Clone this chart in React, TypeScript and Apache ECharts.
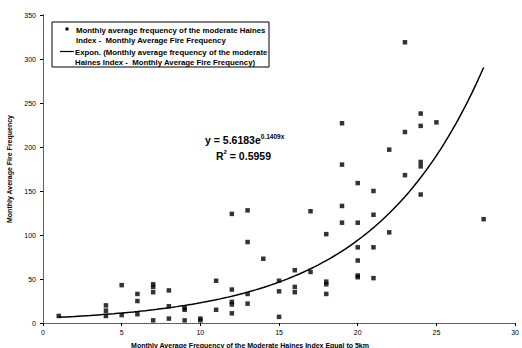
import React, { useEffect, useRef } from "react";
import * as echarts from "echarts";

// Observed scatter points (x: monthly avg frequency of moderate Haines index; y: monthly avg fire frequency)
const xValues = [
  1,
  4, 4, 4,
  5, 5,
  6, 6, 6,
  7, 7, 7, 7,
  8, 8, 8,
  9, 9, 9,
  10, 10,
  11, 11,
  12, 12, 12, 12, 12,
  13, 13, 13, 13,
  14,
  15, 15, 15,
  16, 16, 16,
  17, 17,
  18, 18, 18, 18,
  19, 19, 19, 19,
  20, 20, 20, 20, 20, 20,
  21, 21, 21, 21,
  22, 22,
  23, 23, 23,
  24, 24, 24, 24, 24,
  25,
  28,
];
const yValues = [
  8,
  20, 14, 8,
  43, 9,
  33, 25, 10,
  44, 41, 35, 3,
  37, 19, 5,
  17, 15, 3,
  5, 3,
  48, 15,
  124, 38, 24, 21, 11,
  128, 92, 33, 22,
  73,
  48, 36, 7,
  60, 41, 35,
  127, 58,
  101, 47, 44, 33,
  227, 180, 133, 114,
  159, 114, 86, 71, 54, 52,
  150, 123, 86, 51,
  197, 103,
  319, 217, 168,
  238, 224, 183, 178, 146,
  228,
  118,
];

// Exponential trendline as stated on the chart: y = 5.6183 e^(0.1409x)
const trendA = 5.6183;
const trendB = 0.1409;
const trendXStart = 1;
const trendXEnd = 28;

const xTicks = [0, 5, 10, 15, 20, 25, 30];
const yTicks = [0, 50, 100, 150, 200, 250, 300, 350];

const scatterName = "Monthly average frequency of the moderate Haines Index -  Monthly Average Fire Frequency";
const trendName = "Expon. (Monthly average frequency of the moderate Haines Index -  Monthly Average Fire Frequency)";

const FONT = 'Arial, "Liberation Sans", sans-serif';

export default function App() {
  const ref = useRef<HTMLDivElement>(null);

  useEffect(() => {
    document.body.style.margin = "0";
    if (!ref.current) return;
    const chart = echarts.init(ref.current, null, { renderer: "svg" });

    const scatterData = xValues.map((x, i) => [x, yValues[i]]);
    const trendData: number[][] = [];
    for (let x = trendXStart; x <= trendXEnd + 1e-9; x += 0.25) {
      trendData.push([x, trendA * Math.exp(trendB * x)]);
    }

    const xMin = xTicks[0];
    const xMax = xTicks[xTicks.length - 1];
    const yMin = yTicks[0];
    const yMax = yTicks[yTicks.length - 1];

    chart.setOption({
      animation: false,
      backgroundColor: "#ffffff",
      grid: { left: 43, right: 6, top: 15, bottom: 25, show: false },
      xAxis: [
        {
          type: "value",
          min: xMin,
          max: xMax,
          interval: 5,
          axisLine: { show: true, onZero: false, lineStyle: { color: "#000", width: 1 } },
          axisTick: { show: true, inside: false, length: 3, lineStyle: { color: "#000" } },
          axisLabel: { color: "#000", fontSize: 7, fontFamily: FONT, margin: 6 },
          splitLine: { show: false },
        },
        {
          type: "value",
          position: "top",
          min: xMin,
          max: xMax,
          interval: 5,
          axisLine: { show: true, lineStyle: { color: "#777", width: 1, type: "dotted" } },
          axisTick: { show: false },
          axisLabel: { show: false },
          splitLine: { show: false },
        },
      ],
      yAxis: [
        {
          type: "value",
          min: yMin,
          max: yMax,
          interval: 50,
          axisLine: { show: true, onZero: false, lineStyle: { color: "#000", width: 1 } },
          axisTick: { show: true, inside: false, length: 3, lineStyle: { color: "#000" } },
          axisLabel: { color: "#000", fontSize: 7, fontFamily: FONT, margin: 7 },
          splitLine: { show: false },
        },
        {
          type: "value",
          position: "right",
          min: yMin,
          max: yMax,
          interval: 50,
          axisLine: { show: true, lineStyle: { color: "#777", width: 1, type: "dotted" } },
          axisTick: { show: false },
          axisLabel: { show: false },
          splitLine: { show: false },
        },
      ],
      series: [
        {
          name: scatterName,
          type: "scatter",
          xAxisIndex: 0,
          yAxisIndex: 0,
          symbol: "rect",
          symbolSize: 4.5,
          itemStyle: { color: "#000" },
          data: scatterData,
          z: 3,
        },
        {
          name: trendName,
          type: "line",
          xAxisIndex: 0,
          yAxisIndex: 0,
          showSymbol: false,
          symbol: "none",
          smooth: false,
          lineStyle: { color: "#000", width: 1.5 },
          data: trendData,
          z: 2,
        },
      ],
      graphic: [
        // y-axis title
        {
          type: "text",
          x: 9,
          y: 169,
          rotation: Math.PI / 2,
          style: {
            text: "Monthly Average Fire Frequency",
            fontSize: 7,
            fontWeight: "bold",
            fontFamily: FONT,
            fill: "#000",
            align: "center",
            verticalAlign: "middle",
          },
        },
        // x-axis title
        {
          type: "text",
          x: 250,
          y: 345,
          style: {
            text: "Monthly Average Frequency of the Moderate Haines Index Equal to 5km",
            fontSize: 7,
            fontWeight: "bold",
            fontFamily: FONT,
            fill: "#000",
            align: "center",
            verticalAlign: "middle",
          },
        },
        // legend box
        {
          type: "rect",
          shape: { x: 52, y: 22, width: 217, height: 45 },
          style: { fill: "#fff", stroke: "#000", lineWidth: 1 },
          z: 10,
        },
        {
          type: "rect",
          shape: { x: 65.5, y: 27.5, width: 3, height: 3 },
          style: { fill: "#000" },
          z: 11,
        },
        {
          type: "text",
          left: 76,
          top: 25,
          style: {
            text: "Monthly average frequency of the moderate Haines\nIndex -  Monthly Average Fire Frequency",
            fontSize: 7.8,
            lineHeight: 10,
            fontWeight: "bold",
            fontFamily: FONT,
            fill: "#000",
            align: "left",
            verticalAlign: "top",
          },
          z: 11,
        },
        {
          type: "line",
          shape: { x1: 60, y1: 51.5, x2: 74, y2: 51.5 },
          style: { stroke: "#000", lineWidth: 1.2 },
          z: 11,
        },
        {
          type: "text",
          left: 75,
          top: 47,
          style: {
            text: "Expon. (Monthly average frequency of the moderate\nHaines Index -  Monthly Average Fire Frequency)",
            fontSize: 7.8,
            lineHeight: 10,
            fontWeight: "bold",
            fontFamily: FONT,
            fill: "#000",
            align: "left",
            verticalAlign: "top",
          },
          z: 11,
        },
        // equation
        {
          type: "text",
          left: 205,
          top: 133,
          style: {
            text: "{b|y = 5.6183e}{s|0.1409x}",
            rich: {
              b: { fontSize: 10.5, fontWeight: "bold", fontFamily: FONT, fill: "#000", padding: [5, 0, 0, 0] },
              s: { fontSize: 6.5, fontWeight: "bold", fontFamily: FONT, fill: "#000", padding: [0, 0, 2, 0] },
            },
          },
          z: 11,
        },
        {
          type: "text",
          left: 216,
          top: 149,
          style: {
            text: "{b|R}{s|2}{b| = 0.5959}",
            rich: {
              b: { fontSize: 10.5, fontWeight: "bold", fontFamily: FONT, fill: "#000", padding: [3, 0, 0, 0] },
              s: { fontSize: 6, fontWeight: "bold", fontFamily: FONT, fill: "#000", padding: [0, 0, 5, 0] },
            },
          },
          z: 11,
        },
      ],
    });

    return () => chart.dispose();
  }, []);

  return (
    <div
      ref={ref}
      style={{ position: "absolute", left: 0, top: 0, width: 522, height: 348 }}
    />
  );
}
